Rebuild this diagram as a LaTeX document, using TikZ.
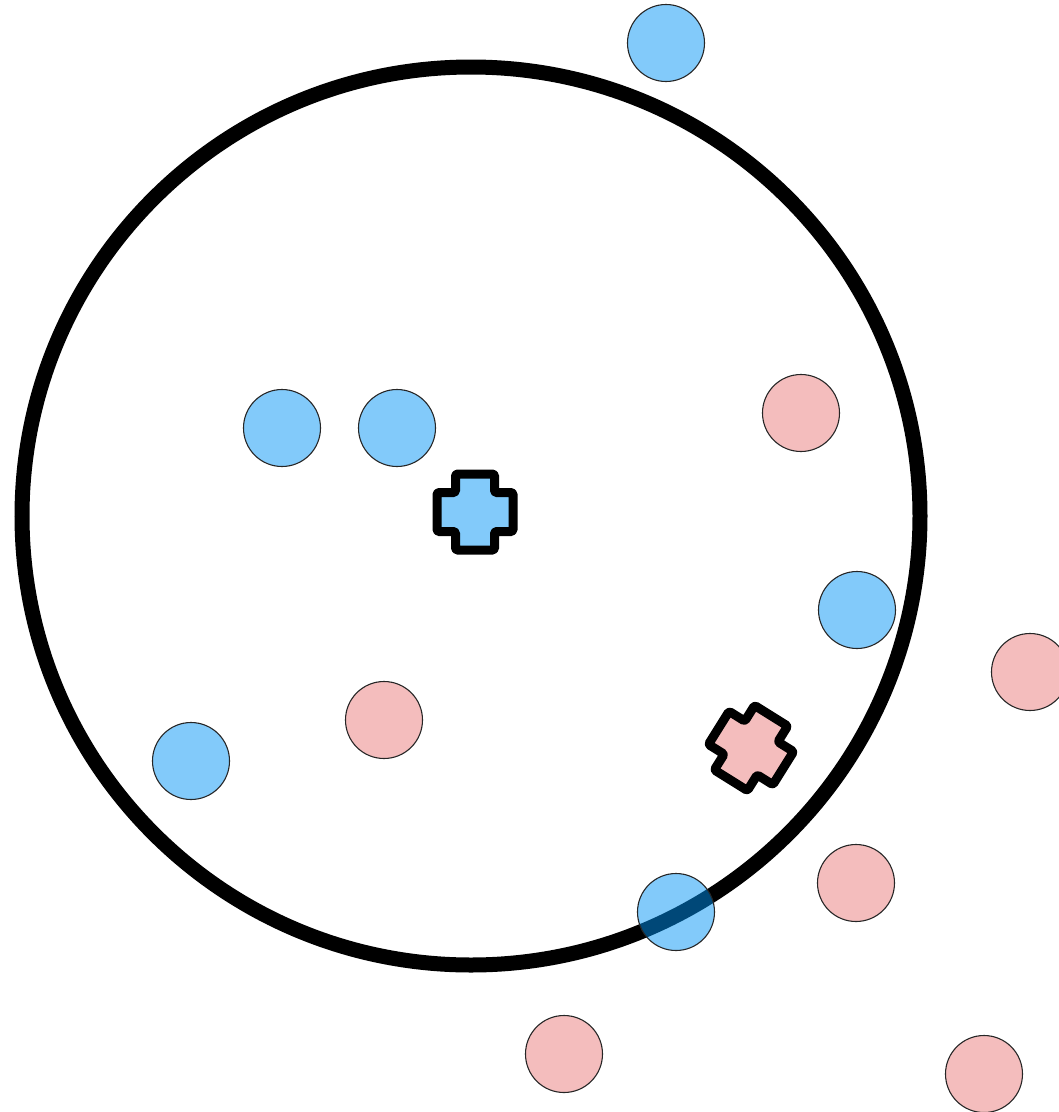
\documentclass[tikz,border=0pt]{standalone}
\usetikzlibrary{calc}
\definecolor{bluefill}{RGB}{0,147,245}
\definecolor{pinkfill}{RGB}{244,189,189}
\tikzset{
  bluept/.style={draw=black!85, line width=1.1pt, fill=bluefill, fill opacity=0.49},
  pinkpt/.style={draw=black!85, line width=1.1pt, fill=pinkfill},
  ring/.style={draw=black, line width=15pt},
  crossshape/.style={draw=black, line width=9pt, line join=round, rounded corners=1.5pt},
}
\newcommand{\crosspath}{(-19.5,-38) -- (19.5,-38) -- (19.5,-19.5) -- (38,-19.5) -- (38,19.5) -- (19.5,19.5) -- (19.5,38) -- (-19.5,38) -- (-19.5,19.5) -- (-38,19.5) -- (-38,-19.5) -- (-19.5,-19.5) -- cycle}
\begin{document}
\begin{tikzpicture}[x=1pt,y=-1pt]
\useasboundingbox (0,0) rectangle (1059,1112);
\clip (0,0) rectangle (1059,1112);
\coordinate (c) at (471,516);
\draw[ring] (c) circle[radius=449];
% blue points
\foreach \n/\x/\y in {b1/666/43, b2/282/428, b3/397/428, b4/857/610, b5/191/761, b6/676/912}
  \path[bluept] (\x,\y) coordinate (\n) circle[radius=38.5];
% pink points
\foreach \n/\x/\y in {p1/801/413, p2/1030/672, p3/384/720, p4/856/883, p5/564/1054, p6/984/1074}
  \path[pinkpt] (\x,\y) coordinate (\n) circle[radius=38.5];
% blue cross
\begin{scope}[shift={(475,512)}]
  \draw[crossshape, fill={rgb,255:red,130;green,202;blue,250}] \crosspath;
\end{scope}
% pink cross
\begin{scope}[shift={(751,748)}, rotate=-32]
  \draw[crossshape, fill=pinkfill] \crosspath;
\end{scope}
\end{tikzpicture}
\end{document}
